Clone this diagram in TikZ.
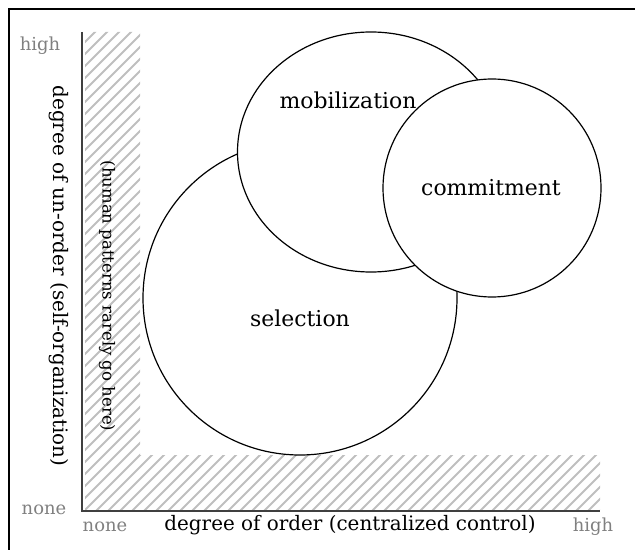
\documentclass[tikz,border=0pt]{standalone}
\usepackage{fontspec}
\setmainfont{DejaVu Serif}
\usetikzlibrary{shapes.geometric}
\tikzset{blob/.style={draw,line width=1.2bp,fill=white,inner sep=0pt},
  hatch/.style={gray!50,line width=1.8bp},
  axisline/.style={black!75,line width=2bp},
  setlabel/.style={font=\fontsize{22}{22}\selectfont},
  axislabel/.style={font=\fontsize{20}{20}\selectfont},
  endlabel/.style={text=black!50,font=\fontsize{18}{18}\selectfont}}

\begin{document}
\begin{tikzpicture}[x=1bp,y=-1bp]
\useasboundingbox (0,0) rectangle (635,550);
\draw[line width=2bp] (9,550) -- (9,9) -- (635,9);
% hatched corner where patterns rarely go
\begin{scope}
\clip (85,32) -- (140,32) -- (140,455) -- (600,455) -- (600,510) -- (85,510) -- cycle;
\foreach \i in {-408,-396,...,600}
  \draw[hatch] (\i,511) -- ++(500,-500);
\end{scope}
\coordinate (O) at (82,511);
\coordinate (Ytop) at (82,32);
\coordinate (Xend) at (600,511);
\draw[axisline] (Ytop) -- (O) -- (Xend);
% the three regions
\node[blob,circle,minimum size=314bp] (sel) at (300,298) {};
\node[blob,ellipse,minimum width=267bp,minimum height=240bp] (mob) at (371,152) {};
\node[blob,circle,minimum size=218bp] (com) at (492,188) {};
\node[setlabel] (mobtxt) at (348,100) {mobilization};
\node[setlabel] (comtxt) at (491,188) {commitment};
\node[setlabel] (seltxt) at (300,318) {selection};
% axes
\node[axislabel] (xlbl) at (350,525) {degree of order (centralized control)};
\node[axislabel,rotate=-90] (ylbl) at (59,276) {degree of un-order (self-organization)};
\node[axislabel,rotate=-90,font=\fontsize{16.6}{17}\selectfont] (rare) at (107,296) {(human patterns rarely go here)};
\node[endlabel] (yhigh) at (40,46) {high};
\node[endlabel] (ynone) at (44,510) {none};
\node[endlabel] (xnone) at (105,527) {none};
\node[endlabel] (xhigh) at (593,527) {high};
\end{tikzpicture}
\end{document}
